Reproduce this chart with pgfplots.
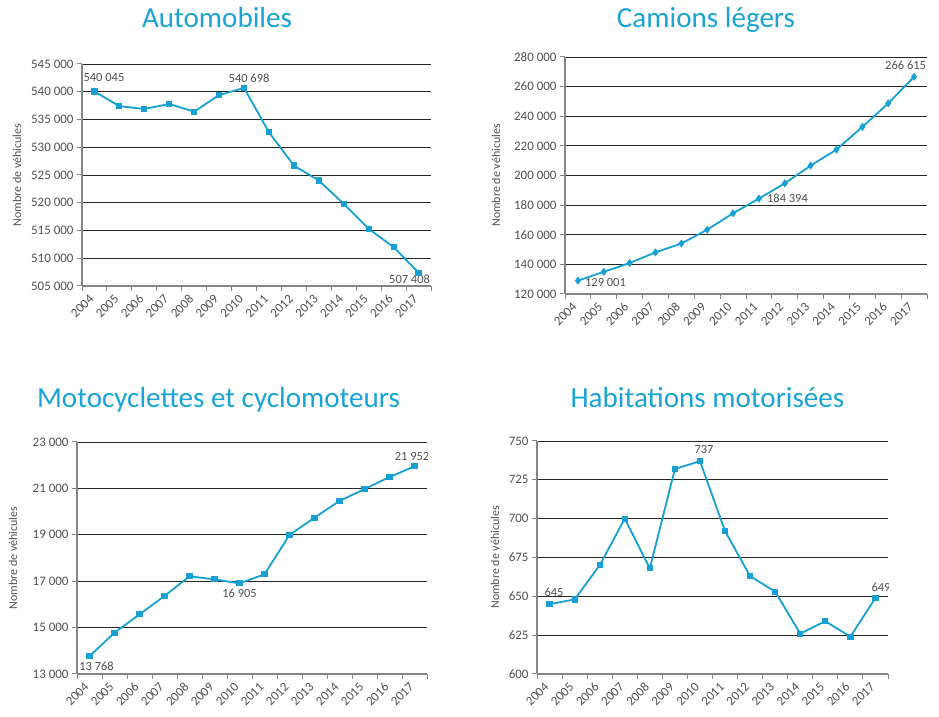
\documentclass[border=0pt]{standalone}
\usepackage{pgfplots}
\pgfplotsset{compat=1.18}
\usepackage{fontspec}
\setmainfont{Carlito}
\definecolor{lineblue}{RGB}{22,160,212}
\definecolor{titleblue}{RGB}{26,163,214}
\definecolor{txtgray}{RGB}{80,80,80}
\definecolor{axgray}{RGB}{134,134,134}
\tikzset{dlab/.style={font=\fontsize{12.5}{14}\selectfont, text=txtgray, inner sep=0pt}}
\pgfplotsset{
  panel/.style={
    scale only axis,
    axis lines*=left,
    axis line style={axgray, line width=1.2bp},
    tick align=outside,
    major tick length=5bp,
    tick style={axgray, line width=1bp},
    xmin=0, xmax=14,
    xtick={0,...,14},
    xticklabels={2004,2005,2006,2007,2008,2009,2010,2011,2012,2013,2014,2015,2016,2017,},
    xticklabel style={rotate=45, anchor=east, font=\fontsize{13}{15}\selectfont, text=txtgray, xshift=6bp, yshift=-11bp},
    yticklabel style={font=\fontsize{13}{15}\selectfont, text=txtgray},
    /pgf/number format/assume math mode=true,
    /pgf/number format/.cd, fixed, 1000 sep={\ }, /pgfplots/.cd,
    scaled y ticks=false,
    ymajorgrids,
    major grid style={black!85, line width=0.8bp},
    ylabel={Nombre de véhicules},
    ylabel style={font=\fontsize{12}{14}\selectfont, text=txtgray, anchor=center, rotate=0},
    every axis plot/.append style={lineblue, line width=1.8bp, mark size=2.2bp, mark options={solid, fill=lineblue}},
  },
}
\begin{document}
\begin{tikzpicture}[x=1bp,y=1bp]
\useasboundingbox (0,0) rectangle (939,717);
% Titles
\node[anchor=base, font=\fontsize{29.2}{33}\selectfont, text=titleblue] at (217,689) {Automobiles};
\node[anchor=base, font=\fontsize{29.2}{33}\selectfont, text=titleblue] at (706,689) {Camions légers};
\node[anchor=base, font=\fontsize{29.2}{33}\selectfont, text=titleblue] at (218.5,309) {Motocyclettes et cyclomoteurs};
\node[anchor=base, font=\fontsize{29.2}{33}\selectfont, text=titleblue] at (707.5,309) {Habitations motorisées};

% Panel 1: Automobiles
\begin{axis}[panel, at={(82bp,431bp)}, anchor=south west, width=349bp, height=222bp,
  ymin=505000, ymax=545000, ytick={505000,510000,...,545000},
  ylabel style={at={(axis description cs:-0.186,0.5)}}]
\addplot[mark=square*] coordinates {
(0.5,540045) (1.5,537400) (2.5,536900) (3.5,537800) (4.5,536400) (5.5,539400) (6.5,540698)
(7.5,532700) (8.5,526700) (9.5,524000) (10.5,519800) (11.5,515300) (12.5,512000) (13.5,507408)};
\node[dlab] at (axis cs:0.5,540045) [xshift=9.5bp, yshift=13.5bp] {540 045};
\node[dlab] at (axis cs:6.5,540698) [xshift=5bp, yshift=10bp] {540 698};
\node[dlab] at (axis cs:13.5,507408) [xshift=-9bp, yshift=-6.5bp] {507 408};
\end{axis}

% Panel 2: Camions legers
\begin{axis}[panel, at={(565bp,423bp)}, anchor=south west, width=362bp, height=237bp,
  ymin=120000, ymax=280000, ytick={120000,140000,...,280000},
  ylabel style={at={(axis description cs:-0.1906,0.5)}}]
\addplot[mark=diamond*, mark size=2.6bp] coordinates {
(0.5,129001) (1.5,135000) (2.5,140900) (3.5,148100) (4.5,154100) (5.5,163400) (6.5,174500)
(7.5,184394) (8.5,194700) (9.5,206700) (10.5,217500) (11.5,232800) (12.5,248700) (13.5,266615)};
\node[dlab] at (axis cs:13.5,266615) [xshift=-8.5bp, yshift=11bp] {266 615};
\node[dlab, anchor=west] at (axis cs:7.5,184394) [xshift=8bp, yshift=0bp] {184 394};
\node[dlab, anchor=west] at (axis cs:0.5,129001) [xshift=7bp, yshift=-2bp] {129 001};
\end{axis}

% Panel 3: Motocyclettes
\begin{axis}[panel, at={(77bp,43bp)}, anchor=south west, width=350bp, height=232bp,
  ymin=13000, ymax=23000, ytick={13000,15000,...,23000},
  ylabel style={at={(axis description cs:-0.183,0.5)}}]
\addplot[mark=square*] coordinates {
(0.5,13768) (1.5,14780) (2.5,15570) (3.5,16360) (4.5,17210) (5.5,17080) (6.5,16905)
(7.5,17300) (8.5,18990) (9.5,19740) (10.5,20460) (11.5,20970) (12.5,21490) (13.5,21952)};
\node[dlab] at (axis cs:13.5,21952) [xshift=-2.5bp, yshift=10bp] {21 952};
\node[dlab] at (axis cs:6.5,16905) [xshift=0bp, yshift=-10bp] {16 905};
\node[dlab] at (axis cs:0.5,13768) [xshift=7bp, yshift=-10bp] {13 768};
\end{axis}

% Panel 4: Habitations motorisees
\begin{axis}[panel, at={(537bp,43bp)}, anchor=south west, width=351bp, height=233bp,
  ymin=600, ymax=750, ytick={600,625,...,750},
  ylabel style={at={(axis description cs:-0.1197,0.5)}}]
\addplot[mark=square*] coordinates {
(0.5,645) (1.5,648) (2.5,670) (3.5,700) (4.5,668) (5.5,732) (6.5,737)
(7.5,692) (8.5,663) (9.5,653) (10.5,626) (11.5,634) (12.5,624) (13.5,649)};
\node[dlab] at (axis cs:6.5,737) [xshift=4bp, yshift=12bp] {737};
\node[dlab] at (axis cs:0.5,645) [xshift=4.5bp, yshift=11.5bp] {645};
\node[dlab] at (axis cs:13.5,649) [xshift=5.5bp, yshift=11bp] {649};
\end{axis}
\end{tikzpicture}
\end{document}
